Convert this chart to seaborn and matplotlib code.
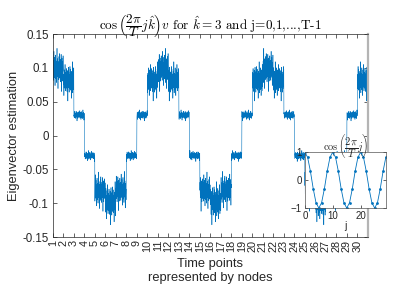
import matplotlib
matplotlib.use("Agg")
import matplotlib.pyplot as plt
import numpy as np
import pandas as pd
import seaborn as sns

# mean level of each node (time point)
node_levels = [0.098, 0.081, 0.030, -0.030, -0.082, -0.099, -0.081, -0.030, 0.030, 0.081,
               0.098, 0.081, 0.030, -0.030, -0.082, -0.099, -0.081, -0.030, 0.030, 0.081,
               0.098, 0.081, 0.030, -0.030, -0.082, -0.099, -0.081, -0.030, 0.030, 0.081]
# spread of the noise around each level
node_spread = [0.011, 0.010, 0.0028, 0.0028, 0.010, 0.011, 0.010, 0.0028, 0.0028, 0.010,
               0.011, 0.010, 0.0028, 0.0028, 0.010, 0.011, 0.010, 0.0028, 0.0028, 0.010,
               0.011, 0.010, 0.0028, 0.0028, 0.010, 0.011, 0.010, 0.0028, 0.0028, 0.010]
# hand-typed jitter pattern (units of spread)
jitter = [0.3, -0.8, 1.2, 0.1, -1.5, 0.6, 2.4, -0.2, -0.9, 0.7, 1.6, -1.1, 0.0, -2.2, 0.9, 0.4,
          -0.5, 1.9, -1.3, 0.2, -0.7, 1.1, -0.1, -1.8, 0.8, 2.8, -0.4, 0.5, -1.0, 1.4, -0.3, -2.6,
          0.6, 1.0, -0.6, 0.2, -1.4, 1.7, 0.3, -0.9, 2.1, -0.2, -1.2, 0.5, 0.9, -1.7, 0.1, 1.3,
          -0.5, -0.1, 2.0, -1.0, 0.4, -3.0, 0.7, 1.5, -0.8, 0.2, -1.6, 1.0, 0.6, -0.3, 1.8, -1.1]
node_labels = [str(i) for i in range(1, 31)]

# inset: cos(2*pi/T*j) samples
inset_j = list(range(30))
inset_cos = [1.0, 0.81, 0.31, -0.31, -0.81, -1.0, -0.81, -0.31, 0.31, 0.81,
             1.0, 0.81, 0.31, -0.31, -0.81, -1.0, -0.81, -0.31, 0.31, 0.81,
             1.0, 0.81, 0.31, -0.31, -0.81, -1.0, -0.81, -0.31, 0.31, 0.81]

BLUE = "#0072BD"
TXT = "#262626"

sns.set_style("ticks")
plt.rcParams["font.family"] = ["Liberation Sans", "DejaVu Sans"]
plt.rcParams["mathtext.fontset"] = "cm"
plt.rcParams["xtick.direction"] = "in"
plt.rcParams["ytick.direction"] = "in"

# build the noisy signal, one block of samples per node
n = len(jitter)
xs, ys = [], []
for k, (lev, sp) in enumerate(zip(node_levels, node_spread)):
    pat = jitter[(k * 17) % n:] + jitter[:(k * 17) % n]
    if k % 2:
        pat = pat[::-1]
    for i, jv in enumerate(pat):
        xs.append(k + 1 + i / n)
        ys.append(lev + sp * jv)
df = pd.DataFrame({"x": xs, "y": ys})

fig = plt.figure(figsize=(4.07, 2.85), dpi=100)
ax = fig.add_axes([0.130, 0.1684, 0.774, 0.7123])
sns.lineplot(data=df, x="x", y="y", ax=ax, color=BLUE, lw=0.4,
             estimator=None, sort=False)

ax.set_xlim(1, 31)
ax.set_ylim(-0.15, 0.15)
ax.set_xticks(range(1, 31))
ax.set_xticklabels(node_labels, rotation=90, fontsize=7.8, color=TXT)
ax.set_yticks([-0.15, -0.1, -0.05, 0, 0.05, 0.1, 0.15])
ax.set_yticklabels(["-0.15", "-0.1", "-0.05", "0", "0.05", "0.1", "0.15"],
                   fontsize=8.3, color=TXT)
ax.tick_params(axis="both", length=3, width=0.5, color=TXT, pad=2,
               top=True, right=True)
ax.tick_params(axis="y", pad=3)
for s in ax.spines.values():
    s.set_linewidth(0.5)
    s.set_color(TXT)
ax.spines["right"].set_color("#b4b4b4")
ax.spines["right"].set_linewidth(1.6)
ax.set_xlabel("Time points\nrepresented by nodes", fontsize=9.3, color=TXT,
              labelpad=4, linespacing=1.3)
ax.set_ylabel("Eigenvector estimation", fontsize=9.3, color=TXT, labelpad=2)
ax.set_title(r"$\cos\left(\dfrac{2\pi}{T}j\hat{k}\right)v$ for $\hat{k}=3$ and j=0,1,...,T-1",
             fontsize=9.5, fontfamily="cmr10", color="black", pad=3)

# inset
axi = fig.add_axes([0.749, 0.270, 0.199, 0.1965])
axi.set_facecolor("white")
sns.lineplot(x=inset_j, y=inset_cos, ax=axi, color=BLUE, lw=0.6,
             marker="o", markersize=2, markeredgewidth=0, markerfacecolor=BLUE)
axi.set_xlim(0, 29)
axi.set_ylim(-1, 1)
axi.set_xticks([0, 10, 20])
axi.set_yticks([-1, 0, 1])
axi.tick_params(axis="both", labelsize=7, length=2, width=0.5, color=TXT,
                labelcolor=TXT, pad=2, top=True, right=True)
for s in axi.spines.values():
    s.set_linewidth(0.5)
    s.set_color("#555555")
axi.set_xlabel("j", fontsize=7.5, color=TXT, labelpad=0)
axi.set_ylabel("")
axi.set_title(r"$\cos\left(\dfrac{2\pi}{T}j\right)$", fontsize=7.5, pad=1)

fig.savefig("out.png", dpi=100)
